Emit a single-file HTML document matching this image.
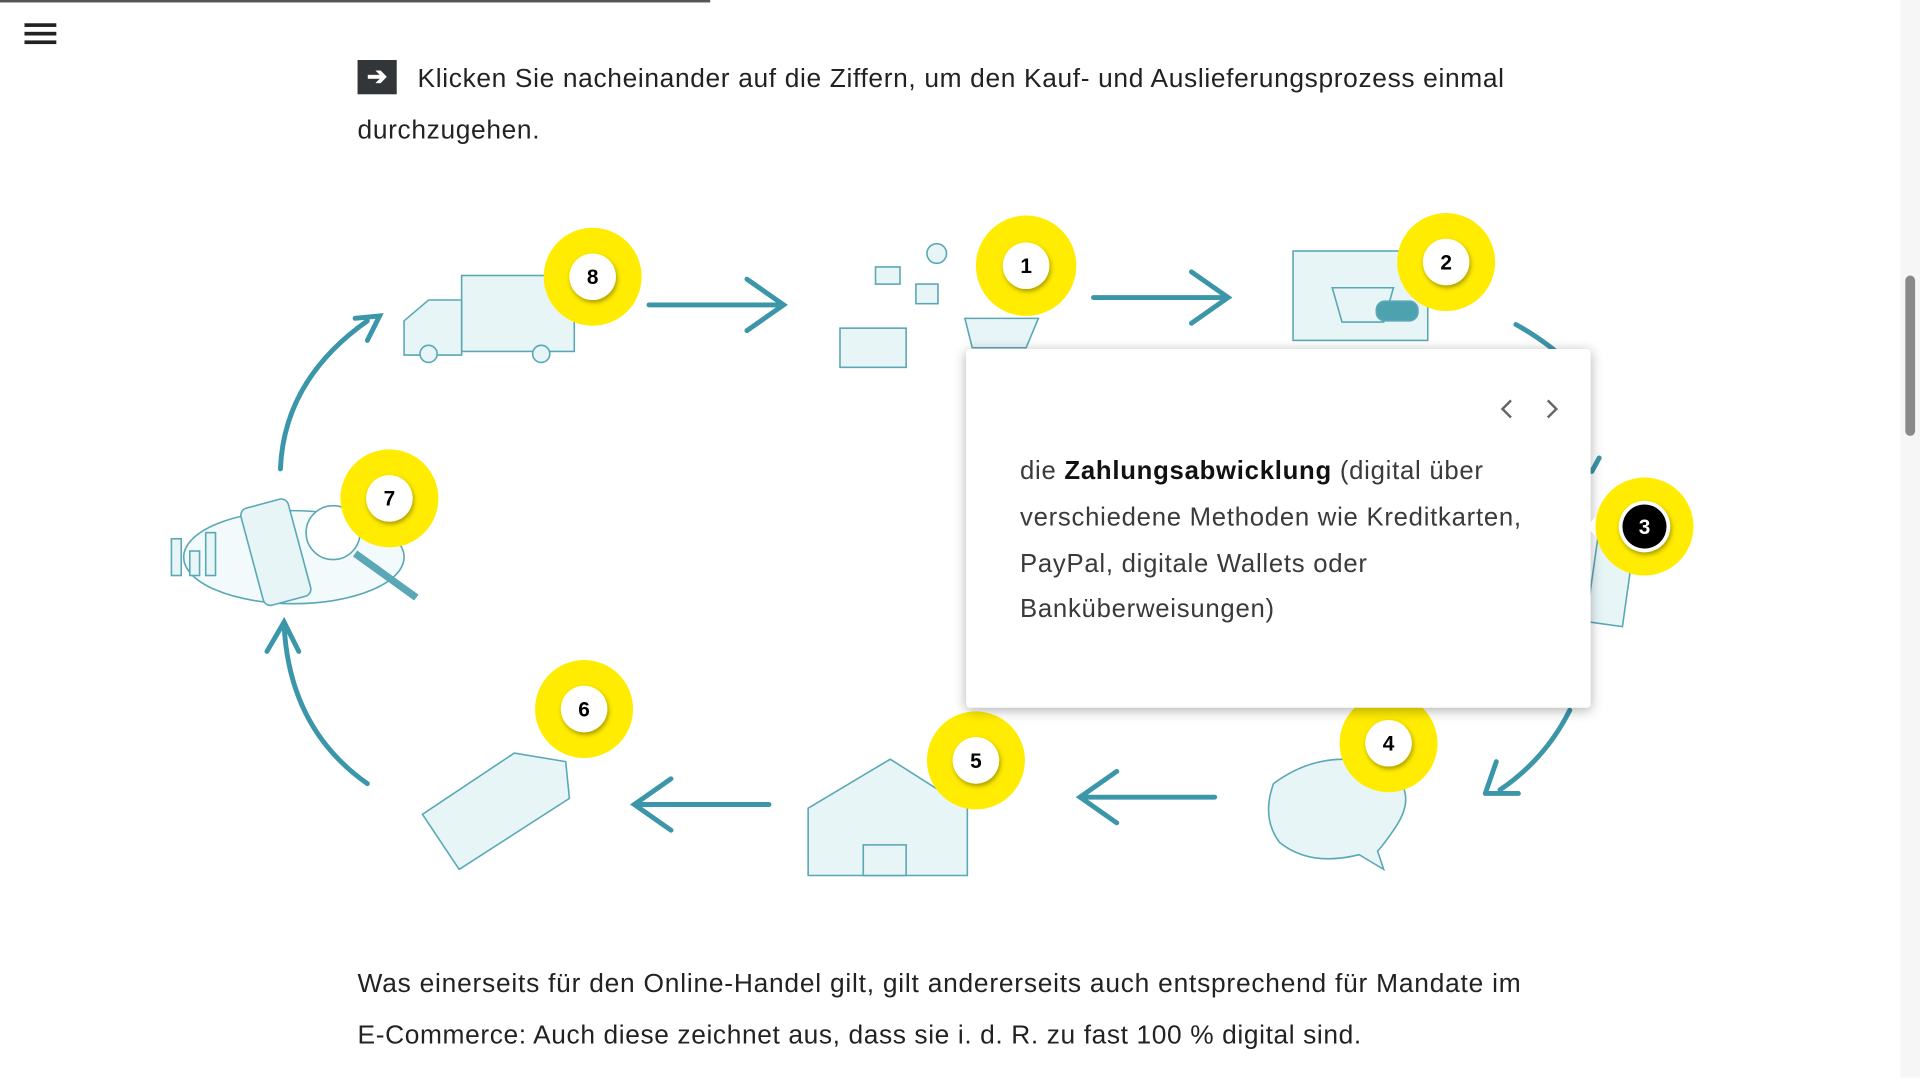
<!DOCTYPE html>
<html><head><meta charset="utf-8"><style>
html,body{margin:0;padding:0;background:#fff;overflow:hidden}
#w{position:absolute;left:0;top:0;width:1568px;height:880px;transform:scale(1.22449);transform-origin:0 0;font-family:"Liberation Sans",sans-serif;color:#222}
.t{position:absolute;font-size:21.5px;white-space:nowrap;line-height:28px}
.c{position:absolute;font-size:21px;color:#3a3a3a;white-space:nowrap;line-height:28px;letter-spacing:0.6px}
</style></head><body><div id="w">
<div style="position:absolute;left:0;top:0;width:580px;height:2px;background:#555"></div>
<div style="position:absolute;left:20px;top:19px;width:26px;height:2.5px;background:#222;box-shadow:0 7px 0 #222,0 14px 0 #222"></div>
<div style="position:absolute;left:1552px;top:0;width:16px;height:880px;background:#f6f6f6"></div>
<div style="position:absolute;left:1556px;top:225px;width:8px;height:131px;border-radius:4px;background:#8a8a8a"></div>
<div style="position:absolute;left:292px;top:49px;width:32px;height:28px;background:#333639;color:#fff;font-size:20px;font-weight:bold;text-align:center;line-height:28px">➔</div>
<div class="t" style="left:341px;top:50px;letter-spacing:0.53px">Klicken Sie nacheinander auf die Ziffern, um den Kauf- und Auslieferungsprozess einmal</div>
<div class="t" style="left:292px;top:92px;letter-spacing:0.53px">durchzugehen.</div>
<div class="t" style="left:292px;top:789px;letter-spacing:0.63px">Was einerseits für den Online-Handel gilt, gilt andererseits auch entsprechend für Mandate im</div>
<div class="t" style="left:292px;top:831px;letter-spacing:0.5px">E-Commerce: Auch diese zeichnet aus, dass sie i. d. R. zu fast 100 % digital sind.</div>
<svg style="position:absolute;left:0;top:0" width="1568" height="880" viewBox="0 0 1568 880">
<defs><filter id="s" x="-50%" y="-50%" width="200%" height="200%"><feDropShadow dx="1" dy="2" stdDeviation="2" flood-opacity="0.35"/></filter></defs>
<g fill="none" stroke="#3a96a8" stroke-width="4" stroke-linecap="round">
<path d="M530 249H638M610 228L640 249L610 270"/>
<path d="M893 243H1002M973 222L1003 243L973 264"/>
<path d="M1238 265Q1265 280 1285 300"/>
<path d="M1300 385L1306 374"/>
<path d="M1282 580Q1262 620 1225 645M1213 648H1240M1213 648L1222 622"/>
<path d="M992 651H882M912 630L882 651L912 672"/>
<path d="M628 657H518M548 636L518 657L548 678"/>
<path d="M300 640Q236 595 232 510M218 532L232 508L244 532"/>
<path d="M229 383Q232 310 300 262M290 260L310 258L300 278"/>
</g>
<g fill="#e8f5f7" stroke="#5aa8b5" stroke-width="1.3">
<rect x="377" y="225" width="92" height="62"/><path d="M330 290V262L350 245H377V290Z"/><circle cx="350" cy="289" r="7"/><circle cx="442" cy="289" r="7"/>
<rect x="686" y="268" width="54" height="32"/><rect x="715" y="218" width="20" height="14"/><rect x="748" y="232" width="18" height="16"/><circle cx="765" cy="207" r="8"/><path d="M788 260h60l-10 24h-44z"/>
<rect x="1056" y="205" width="110" height="73"/><path d="M1088 235h50l-8 28h-34z"/><rect x="1124" y="246" width="34" height="16" rx="7" fill="#4ea2b0"/>
<rect x="1300" y="440" width="30" height="70" transform="rotate(8 1315 475)"/>
<path d="M1040 640q40-30 90-15q30 20 10 50q-10 15-15 20l5 15l-20-12q-40 10-65-10q-15-20-5-48z"/>
<path d="M660 715V660L727 620L790 660V715Z"/><rect x="705" y="690" width="35" height="25"/>
<path d="M345 665L420 615L462 622L465 652L375 710Z"/>
<ellipse cx="240" cy="455" rx="90" ry="38" fill="#f3fafb"/><rect x="205" y="410" width="40" height="82" rx="6" transform="rotate(-15 225 450)"/><rect x="140" y="440" width="8" height="30"/><rect x="155" y="450" width="8" height="20"/><rect x="168" y="435" width="8" height="35"/><circle cx="272" cy="435" r="22" fill="#fff"/><path d="M290 452L340 488" stroke-width="6"/>
</g>
<g font-family="Liberation Sans,sans-serif" font-weight="bold" font-size="17" text-anchor="middle">
<g transform="translate(484 226)"><circle r="40" fill="#ffec00"/><circle r="19" fill="#fff" filter="url(#s)"/><text y="6">8</text></g>
<g transform="translate(838 217)"><circle r="41" fill="#ffec00"/><circle r="19" fill="#fff" filter="url(#s)"/><text y="6">1</text></g>
<g transform="translate(1181 214)"><circle r="40" fill="#ffec00"/><circle r="19" fill="#fff" filter="url(#s)"/><text y="6">2</text></g>
<g transform="translate(1134 607)"><circle r="40" fill="#ffec00"/><circle r="19" fill="#fff" filter="url(#s)"/><text y="6">4</text></g>
<g transform="translate(797 621)"><circle r="40" fill="#ffec00"/><circle r="19" fill="#fff" filter="url(#s)"/><text y="6">5</text></g>
<g transform="translate(477 579)"><circle r="40" fill="#ffec00"/><circle r="19" fill="#fff" filter="url(#s)"/><text y="6">6</text></g>
<g transform="translate(318 407)"><circle r="40" fill="#ffec00"/><circle r="19" fill="#fff" filter="url(#s)"/><text y="6">7</text></g>
</g>
</svg>
<div style="position:absolute;left:789px;top:285px;width:510px;height:293px;background:#fff;border-radius:3px;box-shadow:0 2px 10px rgba(0,0,0,0.3)"></div>
<svg style="position:absolute;left:0;top:0" width="1568" height="880">
<g font-family="Liberation Sans,sans-serif" font-weight="bold" font-size="17" text-anchor="middle">
<g transform="translate(1343 430)"><circle r="40" fill="#ffec00"/><path d="M-40 -8L-47 0L-40 8Z" fill="#fff"/><circle r="21" fill="#fff" filter="url(#s)"/><circle r="18" fill="#000"/><text y="6" fill="#fff">3</text></g>
</g>
<path d="M1234 327L1227 334L1234 341M1264 327L1271 334L1264 341" fill="none" stroke="#666" stroke-width="2"/>
</svg>
<div class="c" style="left:833px;top:371px">die <b style="color:#111">Zahlungsabwicklung</b> (digital über</div>
<div class="c" style="left:833px;top:409px">verschiedene Methoden wie Kreditkarten,</div>
<div class="c" style="left:833px;top:447px">PayPal, digitale Wallets oder</div>
<div class="c" style="left:833px;top:484px">Banküberweisungen)</div>
</div></body></html>
